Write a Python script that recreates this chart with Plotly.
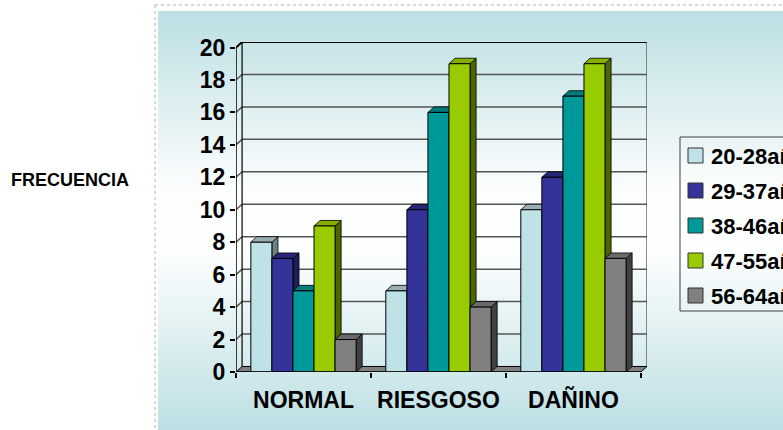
import plotly.graph_objects as go

# ---------------- data ----------------
categories = ["NORMAL", "RIESGOSO", "DAÑINO"]
series_names = ["20-28años", "29-37años", "38-46años", "47-55años", "56-64años"]
values_20_28 = [8, 5, 10]
values_29_37 = [7, 10, 12]
values_38_46 = [5, 16, 17]
values_47_55 = [9, 19, 19]
values_56_64 = [2, 4, 7]
y_ticks = [0, 2, 4, 6, 8, 10, 12, 14, 16, 18, 20]
y_title = "FRECUENCIA"

series_values = [values_20_28, values_29_37, values_38_46, values_47_55, values_56_64]

# ---------------- style ----------------
front_colors = ["#BFE2E6", "#333399", "#009999", "#99CC00", "#808080"]
top_colors = ["#98B0B3", "#27277A", "#007A7A", "#84AE00", "#6A6A6A"]
side_colors = ["#6C8184", "#1E1E5A", "#005C5C", "#4D6600", "#404040"]
FONT = "Liberation Sans, Arial, sans-serif"

W, H = 783, 430
L, T, PW, PH = 236, 42, 411, 330          # plot area in pixels
DX, DY = 0.045, 0.34                      # 3D depth offset in data units
X_RANGE = [-0.5, len(categories) - 0.5 + DX]
Y_RANGE = [0, max(y_ticks) + DY]
GROUP_W = 0.78
BW = GROUP_W / len(series_values)


def pxx(p):
    return (p - L) / PW


def pxy(p):
    return (T + PH - p) / PH


fig = go.Figure()
shapes = []
annotations = []

# background gradient panel (paper stripes)
top_px, bot_px = 11, 432
center = (top_px + bot_px) / 2
cyan = (188, 223, 227)
white = (253, 254, 254)
step = 3
y = top_px
while y < bot_px:
    d = abs(y + step / 2 - center)
    t = min(max((d - 30) / (center - top_px - 30), 0), 1)
    c = tuple(round(white[k] * (1 - t) + cyan[k] * t) for k in range(3))
    shapes.append(dict(type="rect", xref="paper", yref="paper", layer="below",
                       x0=pxx(158), x1=pxx(800), y0=pxy(y), y1=pxy(y + step + 0.6),
                       line=dict(width=0), fillcolor="rgb(%d,%d,%d)" % c))
    y += step

# dotted outer frame
shapes.append(dict(type="line", xref="paper", yref="paper", layer="below",
                   x0=pxx(155), x1=pxx(155), y0=pxy(5), y1=pxy(432),
                   line=dict(color="#B0B0B0", width=1, dash="dot")))
shapes.append(dict(type="line", xref="paper", yref="paper", layer="below",
                   x0=pxx(155), x1=pxx(800), y0=pxy(5), y1=pxy(5),
                   line=dict(color="#B0B0B0", width=1, dash="dot")))

xl, xr = -0.5, len(categories) - 0.5
ytop = max(y_ticks)

# back wall gridlines + left wall diagonals
for v in y_ticks:
    if v == 0:
        continue
    col = "black" if v == ytop else "#555555"
    wid = 2 if v == ytop else 1.5
    shapes.append(dict(type="line", xref="x", yref="y", layer="below",
                       x0=xl + DX, x1=xr + DX, y0=v + DY, y1=v + DY,
                       line=dict(color=col, width=wid)))
    shapes.append(dict(type="line", xref="x", yref="y", layer="below",
                       x0=xl, x1=xl + DX, y0=v, y1=v + DY,
                       line=dict(color=col, width=wid)))

# back wall edges
shapes.append(dict(type="line", xref="x", yref="y", layer="below",
                   x0=xl + DX, x1=xl + DX, y0=DY, y1=ytop + DY,
                   line=dict(color="black", width=1.2)))
shapes.append(dict(type="line", xref="x", yref="y", layer="below",
                   x0=xr + DX, x1=xr + DX, y0=DY, y1=ytop + DY,
                   line=dict(color="#444444", width=1.2)))

# floor
shapes.append(dict(type="path", xref="x", yref="y", layer="below",
                   path=f"M {xl},0 L {xl+DX},{DY} L {xr+DX},{DY} L {xr},0 Z",
                   fillcolor="#808080", line=dict(color="black", width=1)))

# bar side / top faces (computed from the data)
for j in range(len(categories)):
    for i, vals in enumerate(series_values):
        v = vals[j]
        x0 = j - GROUP_W / 2 + i * BW
        x1 = x0 + BW
        nxt = series_values[i + 1][j] if i + 1 < len(series_values) else 0
        lo = max(nxt, 0)
        if v > lo:
            shapes.append(dict(type="path", xref="x", yref="y", layer="below",
                               path=f"M {x1},{lo} L {x1+DX},{lo+DY} L {x1+DX},{v+DY} L {x1},{v} Z",
                               fillcolor=side_colors[i], line=dict(color="black", width=0.8)))
        shapes.append(dict(type="path", xref="x", yref="y", layer="below",
                           path=f"M {x0},{v} L {x0+DX},{v+DY} L {x1+DX},{v+DY} L {x1},{v} Z",
                           fillcolor=top_colors[i], line=dict(color="black", width=0.8)))

# front bars
for i, vals in enumerate(series_values):
    fig.add_trace(go.Bar(
        x=list(range(len(categories))), y=vals, name=series_names[i],
        width=BW, offset=-GROUP_W / 2 + i * BW,
        marker=dict(color=front_colors[i], line=dict(color="black", width=1)),
        showlegend=False, hoverinfo="skip"))

# front axis lines
shapes.append(dict(type="line", xref="x", yref="y", layer="above",
                   x0=xl, x1=xl, y0=0, y1=ytop, line=dict(color="black", width=1.5)))
shapes.append(dict(type="line", xref="x", yref="y", layer="above",
                   x0=xl, x1=xr, y0=0, y1=0, line=dict(color="black", width=1.5)))

# custom legend (clipped by the window edge like the reference)
shapes.append(dict(type="rect", xref="paper", yref="paper", layer="above",
                   x0=pxx(680), x1=pxx(820), y0=pxy(137), y1=pxy(311),
                   line=dict(color="#404040", width=1), fillcolor="rgba(0,0,0,0)"))
for i, name in enumerate(series_names):
    cy = 155.5 + i * 35
    shapes.append(dict(type="rect", xref="paper", yref="paper", layer="above",
                       x0=pxx(688), x1=pxx(703), y0=pxy(cy - 7.5), y1=pxy(cy + 7.5),
                       line=dict(color="#333333", width=1), fillcolor=front_colors[i]))
    annotations.append(dict(xref="paper", yref="paper", x=pxx(709), y=pxy(cy + 1),
                            xanchor="left", yanchor="middle", showarrow=False, text=name,
                            font=dict(family=FONT, size=22, color="black", weight="bold")))

annotations.append(dict(xref="paper", yref="paper", x=pxx(70), y=pxy(180),
                        xanchor="center", yanchor="middle", showarrow=False, text=y_title,
                        font=dict(family=FONT, size=18, color="black", weight="bold")))

fig.update_layout(
    width=W, height=H,
    margin=dict(l=L, r=W - L - PW, t=T, b=H - T - PH, pad=0, autoexpand=False),
    paper_bgcolor="white", plot_bgcolor="rgba(0,0,0,0)",
    barmode="group", showlegend=False,
    shapes=shapes, annotations=annotations,
    xaxis=dict(range=X_RANGE, tickmode="array", tickvals=list(range(len(categories))),
               ticktext=categories, ticks="", showgrid=False, zeroline=False, showline=False,
               ticklabelstandoff=12,
               tickfont=dict(family=FONT, size=23, color="black", weight="bold"),
               minor=dict(tickmode="array", tickvals=[k - 0.5 for k in range(len(categories) + 1)],
                          ticks="outside", ticklen=5, tickwidth=1.5, tickcolor="black",
                          showgrid=False)),
    yaxis=dict(range=Y_RANGE, tickmode="array", tickvals=y_ticks, ticks="outside",
               ticklen=5, tickwidth=1.5, tickcolor="black", showgrid=False, zeroline=False,
               showline=False,
               tickfont=dict(family=FONT, size=23, color="black", weight="bold")),
)

fig.write_html("out.html")
